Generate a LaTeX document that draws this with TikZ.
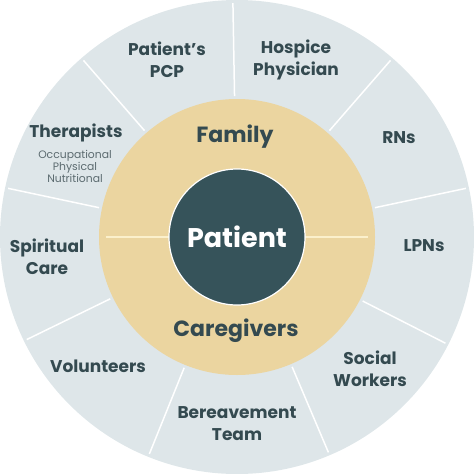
\documentclass[tikz,border=0pt]{standalone}
\usepackage{fontspec}
\setmainfont{Poppins}
\usetikzlibrary{calc}
\definecolor{ringc}{HTML}{DEE6E9}
\definecolor{beige}{HTML}{EBD5A0}
\definecolor{core}{HTML}{36535A}
\definecolor{txt}{HTML}{344A50}
\definecolor{subtxt}{HTML}{5C6B70}
\definecolor{bsep}{HTML}{FBF0CC}
\begin{document}
\begin{tikzpicture}[x=1pt,y=-1pt,
  lbl/.style={font=\bfseries\fontsize{17}{22}\selectfont, text=txt, align=center, inner sep=0pt},
  sublbl/.style={font=\fontsize{10.8}{12}\selectfont, text=subtxt, align=center, inner sep=0pt},
  big/.style={font=\bfseries\fontsize{22}{26}\selectfont, text=txt, inner sep=0pt},
  sepline/.style={white, line width=1.5pt},
  bline/.style={bsep, line width=2pt}]
\useasboundingbox (0,0) rectangle (474,474);
\coordinate (c) at (237,237);
\fill[ringc] (c) circle[radius=237pt];
\foreach \a in {91,131,168,206,248,293,333,12,49}{
  \draw[sepline] ($(c)+(-\a:141)$) -- ($(c)+(-\a:234)$);
}
\fill[beige] (c) circle[radius=138pt];
\draw[bline] (106,237) -- (170,237);
\draw[bline] (304,237) -- (368,237);
\fill[core, draw=white, line width=1.2pt] (c) circle[radius=68pt];
\node[font=\bfseries\fontsize{27}{30}\selectfont, text=white, inner sep=0pt] (patient) at (237,237) {Patient};
\node[big] (family) at (235,137) {Family};
\node[big] (caregivers) at (236,331) {Caregivers};
\node[lbl] (pcp) at (167,60) {Patient’s\\PCP};
\node[lbl] (hospice) at (296,60) {Hospice\\Physician};
\node[lbl] (rns) at (399,138) {RNs};
\node[lbl] (lpns) at (424,246) {LPNs};
\node[lbl] (social) at (370,369) {Social\\Workers};
\node[lbl] (bereave) at (237,424) {Bereavement\\Team};
\node[lbl] (volunteers) at (98,366) {Volunteers};
\node[lbl] (spiritual) at (47,257) {Spiritual\\Care};
\node[lbl] (therapists) at (76,133) {Therapists};
\node[sublbl] (thersub) at (75,166) {Occupational\\Physical\\Nutritional};
\end{tikzpicture}
\end{document}
